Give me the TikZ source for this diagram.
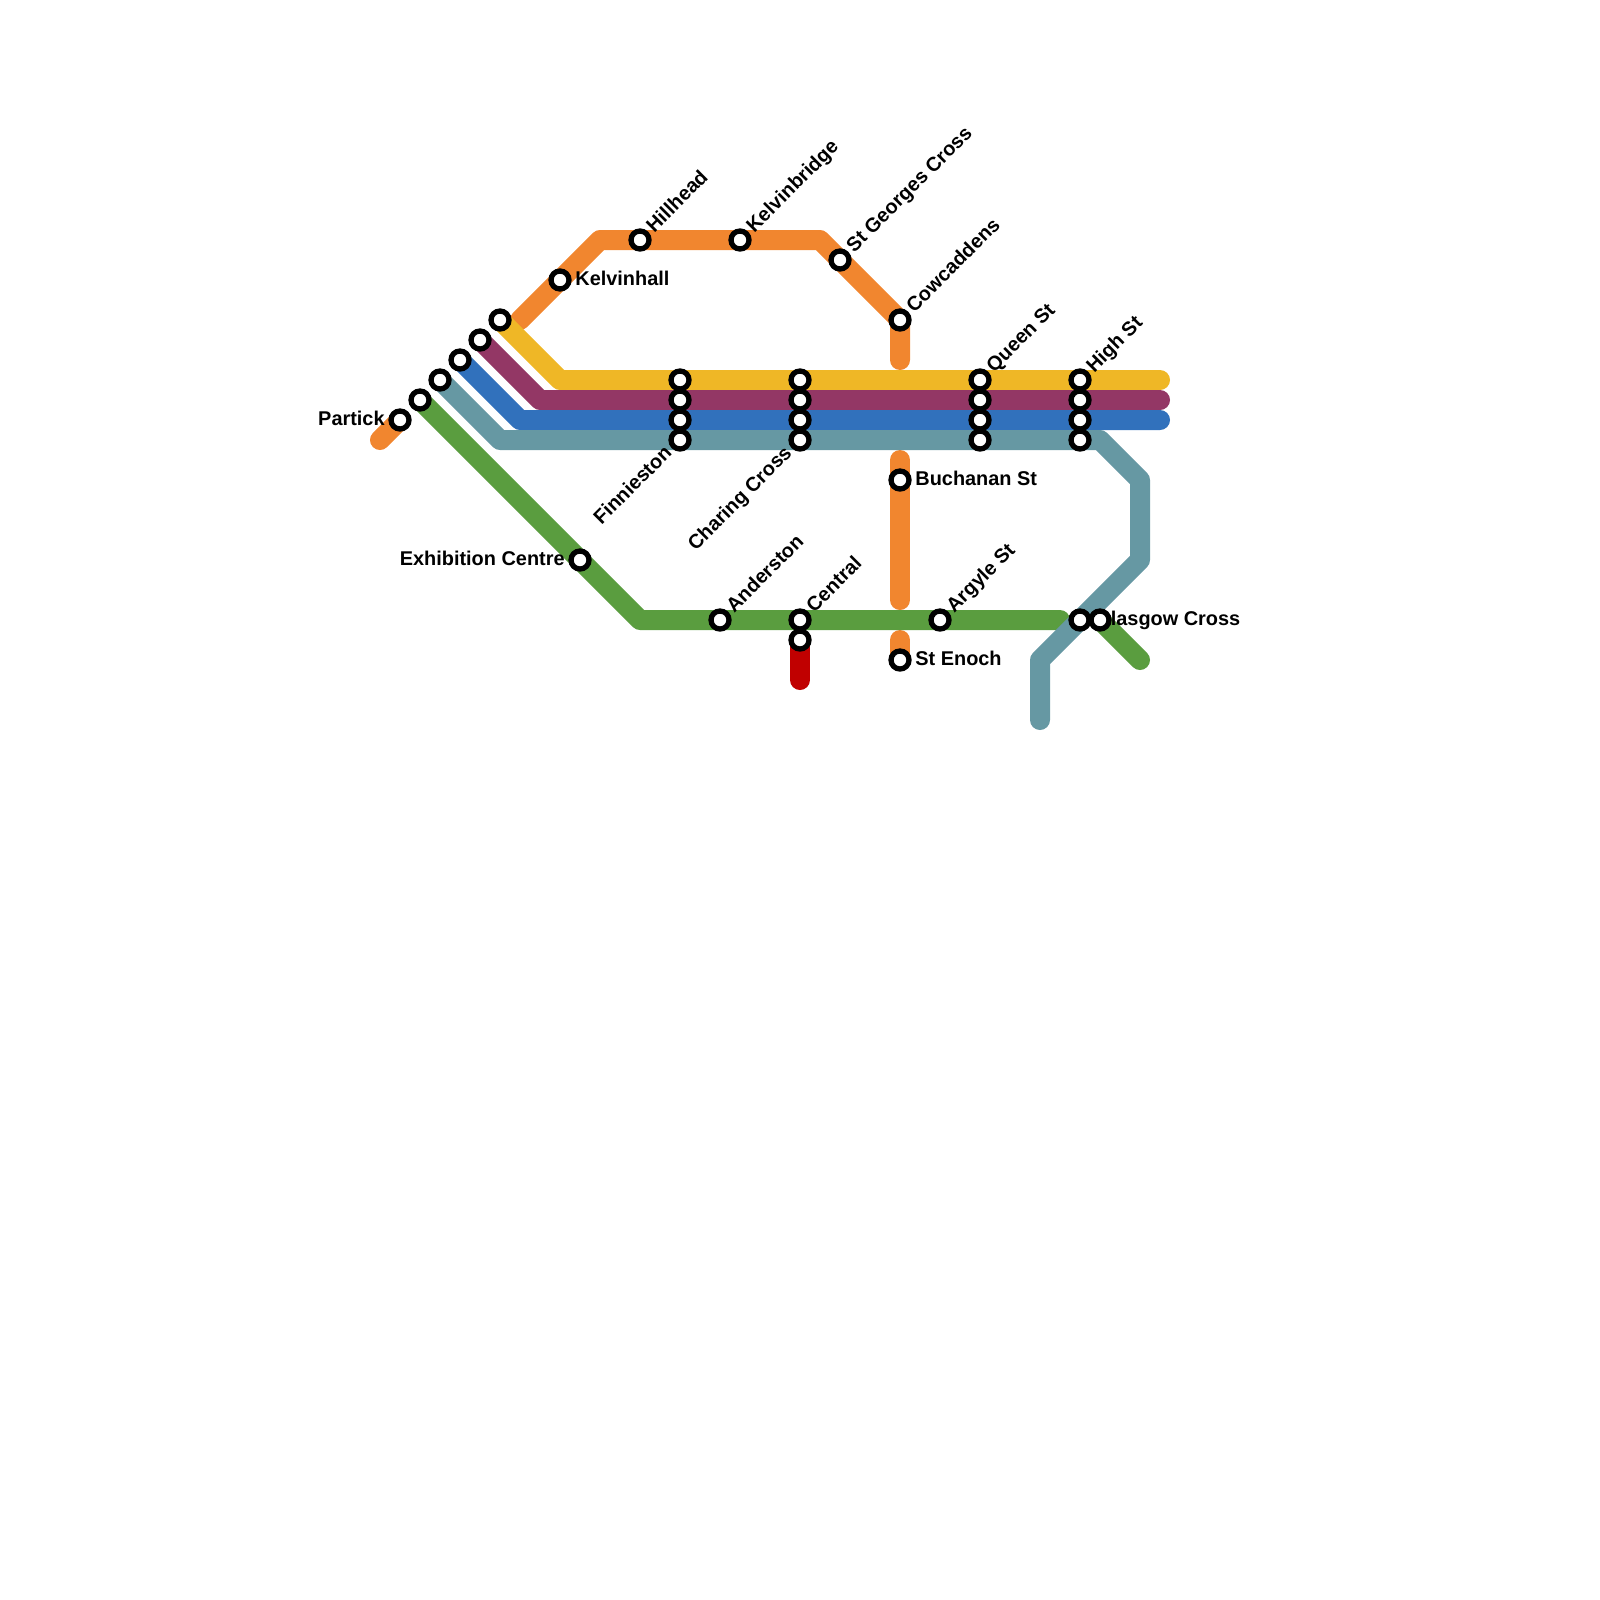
\documentclass[tikz,border=0pt]{standalone}
\usepackage{fontspec}
\setmainfont{Liberation Sans}
\definecolor{cOrange}{HTML}{F1862F}
\definecolor{cYellow}{HTML}{EFB726}
\definecolor{cPurple}{HTML}{933765}
\definecolor{cBlue}{HTML}{3171BC}
\definecolor{cTeal}{HTML}{6698A3}
\definecolor{cGreen}{HTML}{5A9D3F}
\definecolor{cRed}{HTML}{C00000}
\tikzset{
  metro/.style={line width=10pt,line cap=round,line join=round},
  stop/.style={circle,draw=black,fill=white,line width=2.65pt,minimum size=9pt,inner sep=0pt},
  lbl/.style={font=\bfseries\fontsize{9.95}{11}\selectfont,inner sep=0pt,text=black},
  lblR/.style={lbl,anchor=base west},
  lblL/.style={lbl,anchor=base east},
  lblUp/.style={lbl,rotate=45,anchor=base west},
  lblDn/.style={lbl,rotate=45,anchor=base east},
}
\begin{document}
\begin{tikzpicture}[x=0.5pt,y=-0.5pt]
\useasboundingbox (0,0) rectangle (1600,1600);
% station positions
\coordinate (Partick) at (400,420);
\coordinate (GreenW) at (420,400);
\coordinate (TealW) at (440,380);
\coordinate (BlueW) at (460,360);
\coordinate (PurpleW) at (480,340);
\coordinate (YellowW) at (500,320);
\coordinate (Kelvinhall) at (560,280);
\coordinate (Hillhead) at (640,240);
\coordinate (Kelvinbridge) at (740,240);
\coordinate (StGeorges) at (840,260);
\coordinate (Cowcaddens) at (900,320);
\coordinate (Buchanan) at (900,480);
\coordinate (StEnoch) at (900,660);
\coordinate (Argyle) at (940,620);
\coordinate (CentralA) at (800,620);
\coordinate (CentralB) at (800,640);
\coordinate (Anderston) at (720,620);
\coordinate (Exhibition) at (580,560);
\coordinate (GlasgowA) at (1080,620);
\coordinate (GlasgowB) at (1100,620);
\foreach \n/\x in {Fin/680,Cha/800,Que/980,Hig/1080}{
  \coordinate (\n Y) at (\x,380);
  \coordinate (\n P) at (\x,400);
  \coordinate (\n B) at (\x,420);
  \coordinate (\n T) at (\x,440);
}
% bends and ends
\coordinate (oA) at (380,440);
\coordinate (oB) at (520,320);
\coordinate (oC) at (600,240);
\coordinate (oD) at (820,240);
\coordinate (oE) at (900,360);
\coordinate (oF) at (900,460);
\coordinate (oG) at (900,600);
\coordinate (oH) at (900,640);
\coordinate (yA) at (560,380);
\coordinate (yB) at (1160,380);
\coordinate (pA) at (540,400);
\coordinate (pB) at (1160,400);
\coordinate (bA) at (520,420);
\coordinate (bB) at (1160,420);
\coordinate (tA) at (500,440);
\coordinate (tB) at (1100,440);
\coordinate (tC) at (1140,480);
\coordinate (tD) at (1140,560);
\coordinate (tE) at (1040,660);
\coordinate (tF) at (1040,720);
\coordinate (gA) at (640,620);
\coordinate (gB) at (1060,620);
\coordinate (gC) at (1140,660);
\coordinate (rA) at (800,680);
% lines
\draw[metro,cOrange] (oA) -- (Partick);
\draw[metro,cOrange] (oB) -- (oC) -- (oD) -- (Cowcaddens) -- (oE);
\draw[metro,cOrange] (oF) -- (oG);
\draw[metro,cOrange] (oH) -- (StEnoch);
\draw[metro,cRed] (CentralB) -- (rA);
\draw[metro,cGreen] (GreenW) -- (gA) -- (gB);
\draw[metro,cGreen] (GlasgowB) -- (gC);
\draw[metro,cYellow] (YellowW) -- (yA) -- (yB);
\draw[metro,cPurple] (PurpleW) -- (pA) -- (pB);
\draw[metro,cBlue] (BlueW) -- (bA) -- (bB);
\draw[metro,cTeal] (TealW) -- (tA) -- (tB) -- (tC) -- (tD) -- (tE) -- (tF);
% labels
\path (Partick) ++(-15,5) node[lblL] (lPartick) {Partick};
\path (Kelvinhall) ++(15,5) node[lblR] (lKelvinhall) {Kelvinhall};
\path (Hillhead) ++(14,-6.5) node[lblUp] (lHillhead) {Hillhead};
\path (Kelvinbridge) ++(14,-6.5) node[lblUp] (lKelvinbridge) {Kelvinbridge};
\path (StGeorges) ++(14,-6.5) node[lblUp] (lStGeorges) {St Georges Cross};
\path (Cowcaddens) ++(14,-6.5) node[lblUp] (lCowcaddens) {Cowcaddens};
\path (QueY) ++(14,-6.5) node[lblUp] (lQueen) {Queen St};
\path (HigY) ++(14,-6.5) node[lblUp] (lHigh) {High St};
\path (Buchanan) ++(15,5) node[lblR] (lBuchanan) {Buchanan St};
\path (StEnoch) ++(15,5) node[lblR] (lStEnoch) {St Enoch};
\path (Argyle) ++(14,-6.5) node[lblUp] (lArgyle) {Argyle St};
\path (CentralA) ++(14,-6.5) node[lblUp] (lCentral) {Central};
\path (Anderston) ++(14,-6.5) node[lblUp] (lAnderston) {Anderston};
\path (Exhibition) ++(-15,5) node[lblL] (lExhibition) {Exhibition Centre};
\path (FinT) ++(-7,14) node[lblDn] (lFinnieston) {Finnieston};
\path (ChaT) ++(-7,14) node[lblDn] (lCharing) {Charing Cross};
\path (GlasgowA) ++(15,5) node[lblR] (lGlasgow) {Glasgow Cross};
% stations
\foreach \c in {Partick,GreenW,TealW,BlueW,PurpleW,YellowW,Kelvinhall,Hillhead,Kelvinbridge,StGeorges,Cowcaddens,Buchanan,StEnoch,Argyle,CentralA,CentralB,Anderston,Exhibition,GlasgowA,GlasgowB,FinY,FinP,FinB,FinT,ChaY,ChaP,ChaB,ChaT,QueY,QueP,QueB,QueT,HigY,HigP,HigB,HigT}{
  \node[stop] (st\c) at (\c) {};
}
\end{tikzpicture}
\end{document}
